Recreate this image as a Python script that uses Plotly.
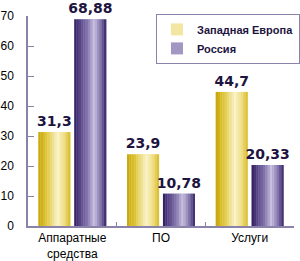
import plotly.graph_objects as go

categories = ["Аппаратные<br>средства", "ПО", "Услуги"]
series_names = ["Западная Европа", "Россия"]
europe = [31.3, 23.9, 44.7]
russia = [68.88, 10.78, 20.33]
europe_text = ["31,3", "23,9", "44,7"]
russia_text = ["68,88", "10,78", "20,33"]
y_ticks = [0, 10, 20, 30, 40, 50, 60, 70]

# gradient profiles (fraction across bar, color)
gold_profile = [(0.0, (0xc6, 0xa5, 0x08)), (0.25, (0xde, 0xc4, 0x38)), (0.6, (0xfa, 0xf4, 0xcc)),
                (0.82, (0xee, 0xdc, 0x80)), (1.0, (0xd6, 0xba, 0x24))]
purple_profile = [(0.0, (0x2c, 0x1c, 0x58)), (0.12, (0x4a, 0x38, 0x7c)), (0.42, (0x86, 0x78, 0xae)),
                  (0.62, (0xcc, 0xc4, 0xe2)), (0.82, (0x84, 0x76, 0xac)), (1.0, (0x34, 0x24, 0x62))]


def interp(profile, t):
    for (t0, c0), (t1, c1) in zip(profile[:-1], profile[1:]):
        if t0 <= t <= t1:
            f = (t - t0) / (t1 - t0) if t1 > t0 else 0
            c = [round(a + (b - a) * f) for a, b in zip(c0, c1)]
            return "rgb(%d,%d,%d)" % tuple(c)
    return "rgb(%d,%d,%d)" % profile[-1][1]


BAR_W = 0.361
OFFSETS = [-0.383, 0.022]
N_STRIPS = 14
text_color = "#1e1440"
axis_color = "#8a82a8"

fig = go.Figure()
data = [(europe, europe_text, gold_profile, series_names[0]),
        (russia, russia_text, purple_profile, series_names[1])]

for i, (vals, txt, prof, name) in enumerate(data):
    off = OFFSETS[i]
    # base trace (legend + value labels)
    fig.add_trace(go.Bar(
        x=categories, y=vals, name=name, width=BAR_W, offset=off,
        marker=dict(color=interp(prof, 0.5), line=dict(width=0)),
        text=txt, textposition="outside", cliponaxis=False, constraintext="none",
        textfont=dict(family="DejaVu Sans", size=14, color=text_color, weight="bold"),
        showlegend=True, legendgroup=name,
    ))
    sw = BAR_W / N_STRIPS
    for k in range(N_STRIPS):
        t = (k + 0.5) / N_STRIPS
        fig.add_trace(go.Bar(
            x=categories, y=vals, width=sw * 1.02, offset=off + k * sw,
            marker=dict(color=interp(prof, t), line=dict(width=0)),
            showlegend=False, legendgroup=name, hoverinfo="skip",
        ))

fig.update_layout(
    width=300, height=261,
    margin=dict(l=26, r=0, t=16, b=33),
    barmode="overlay",
    paper_bgcolor="white", plot_bgcolor="white",
    font=dict(family="Liberation Sans, Arial, sans-serif", size=12, color="black"),
    legend=dict(
        x=0.482, y=1.01, xanchor="left", yanchor="top",
        bgcolor="white", bordercolor=axis_color, borderwidth=1,
        font=dict(family="Liberation Sans, Arial, sans-serif", size=11, color=text_color, weight="bold"),
        tracegroupgap=0,
    ),
)
fig.update_xaxes(
    type="category", range=[-0.5, 2.5], showline=True, linecolor=axis_color, linewidth=1.5,
    ticks="inside", tickson="boundaries", ticklen=4, tickcolor=axis_color,
    showgrid=False, tickfont=dict(size=12, color="black"),
)
fig.update_yaxes(
    range=[0, 70], tickvals=y_ticks, showline=True, linecolor=axis_color, linewidth=1.5,
    ticks="inside", ticklen=6, tickcolor=axis_color, showgrid=False, zeroline=False,
    tickfont=dict(size=12, color="black"), ticklabelstandoff=10,
)

fig.write_html("out.html")
